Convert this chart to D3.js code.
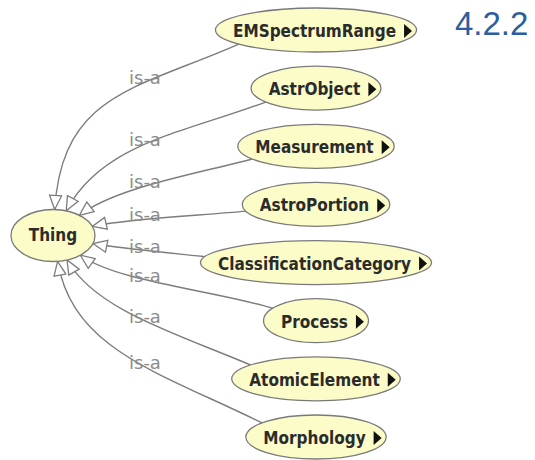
<!DOCTYPE html>
<html><head><meta charset="utf-8">
<script src="https://cdn.jsdelivr.net/npm/d3@7"></script>
<style>body{margin:0;background:#fff}</style>
</head><body>
<svg id="c" width="535" height="460"></svg>
<script>
// ---- data ----
const rootClass = "Thing";
const subClasses = ["EMSpectrumRange","AstrObject","Measurement","AstroPortion",
  "ClassificationCategory","Process","AtomicElement","Morphology"];
const relationLabel = "is-a";
const expandable = [true,true,true,true,true,true,true,true];
const versionLabel = "4.2.2";

// ---- layout / style ----
const W = 535, H = 460;
const svg = d3.select("#c");
const yScale = d3.scalePoint().domain(subClasses).range([30, 437]);
const childCx = 316;
const root = {x: 53, y: d3.mean(yScale.range()) + 2, rx: 42, ry: 26};
const nodeFont = "'DejaVu Sans Condensed','DejaVu Sans',sans-serif";
const fill = "#fcfcc8", nodeStroke = "#7a7a7a", edgeColor = "#7d7d7d";

svg.append("defs").append("marker")
  .attr("id","hollow").attr("markerUnits","userSpaceOnUse")
  .attr("viewBox","-15 -8 17 16").attr("refX",0).attr("refY",0)
  .attr("markerWidth",17).attr("markerHeight",16).attr("orient","auto")
  .append("path").attr("d","M0,0 L-14,-6 L-14,6 Z")
  .attr("fill","#fff").attr("stroke",edgeColor).attr("stroke-width",1.3);

const gEdges = svg.append("g");
const gNodes = svg.append("g");

// child nodes
const nodes = subClasses.map((name,i) => ({name, cy: yScale(name), exp: expandable[i]}));
nodes.forEach(n => {
  const g = gNodes.append("g");
  const ell = g.append("ellipse");
  const t = g.append("text").text(n.name)
    .attr("font-family", nodeFont).attr("font-stretch","condensed")
    .attr("font-weight","bold").attr("font-size",17).attr("fill","#2b2b2b");
  const w = t.node().getComputedTextLength();
  n.rx = w/2 + 19; n.ry = 22;
  const left = childCx - n.rx;
  t.attr("x", left + 17.5).attr("y", n.cy + 7);
  ell.attr("cx", childCx).attr("cy", n.cy).attr("rx", n.rx).attr("ry", n.ry)
    .attr("fill", fill).attr("stroke", nodeStroke).attr("stroke-width", 1.3);
  if (n.exp) {
    const tx = left + 17.5 + w + 8;
    g.append("path").attr("d", `M${tx},${n.cy-6} L${tx+8},${n.cy+1} L${tx},${n.cy+8} Z`)
      .attr("fill","#111");
  }
});

// root node
const gr = gNodes.append("g");
gr.append("ellipse").attr("cx",root.x).attr("cy",root.y).attr("rx",root.rx).attr("ry",root.ry)
  .attr("fill",fill).attr("stroke",nodeStroke).attr("stroke-width",1.3);
gr.append("text").text(rootClass).attr("x",root.x).attr("y",root.y+5)
  .attr("text-anchor","middle").attr("font-family",nodeFont).attr("font-stretch","condensed")
  .attr("font-weight","bold").attr("font-size",17).attr("fill","#2b2b2b");

// edges
const bez = (p, t) => {
  const u = 1-t;
  return [u*u*u*p[0][0]+3*u*u*t*p[1][0]+3*u*t*t*p[2][0]+t*t*t*p[3][0],
          u*u*u*p[0][1]+3*u*u*t*p[1][1]+3*u*t*t*p[2][1]+t*t*t*p[3][1]];
};
nodes.forEach(n => {
  const dy = n.cy - root.y;
  const below = dy > 0;
  const ts = (180 + 40*Math.tanh(dy/65)) * Math.PI/180;
  const P0 = [childCx + n.rx*Math.cos(ts), n.cy + n.ry*Math.sin(ts)];
  const phi = Math.max(-88, Math.min(80, 0.42*dy)) * Math.PI/180;
  const c = Math.cos(phi), s = Math.sin(phi);
  const tt = 1/Math.sqrt((c/root.rx)**2 + (s/root.ry)**2);
  const P3 = [root.x + tt*c, root.y + tt*s];
  const d = Math.hypot(P0[0]-P3[0], P0[1]-P3[1]);
  const k = Math.min(1, Math.abs(dy)/205);
  const L1 = d*(0.22 + 0.23*k);
  const L2 = d*(0.20 + (below ? 0.15 : 0.27)*k*k);
  const sl = below ? -0.55*Math.tanh(dy/140) : -0.5*Math.tanh(dy/150);
  const ul = Math.hypot(1, sl);
  const P1 = [P0[0] - L1/ul, P0[1] + L1*sl/ul];
  const P2 = [P3[0] + L2*c, P3[1] + L2*s];
  const pts = [P0,P1,P2,P3];
  const path = d3.path();
  path.moveTo(P0[0],P0[1]);
  path.bezierCurveTo(P1[0],P1[1],P2[0],P2[1],P3[0],P3[1]);
  gEdges.append("path").attr("d", path.toString())
    .attr("fill","none").attr("stroke",edgeColor).attr("stroke-width",1.4)
    .attr("marker-end","url(#hollow)");
  // label near x = 146
  let best = null;
  for (let q=0;q<=400;q++){ const p = bez(pts,q/400); if(!best || Math.abs(p[0]-146)<Math.abs(best[0]-146)) best=p; }
  gEdges.append("text").text(relationLabel).attr("x",129).attr("y",best[1]+2)
    .attr("font-family","'DejaVu Sans',sans-serif").attr("font-size",18).attr("fill","#8c8c8c");
});
gNodes.raise();

svg.append("text").text(versionLabel).attr("x",455).attr("y",35)
  .attr("font-family","'Liberation Sans',Arial,sans-serif").attr("font-size",33).attr("fill","#2c5d9f");
</script>
</body></html>
